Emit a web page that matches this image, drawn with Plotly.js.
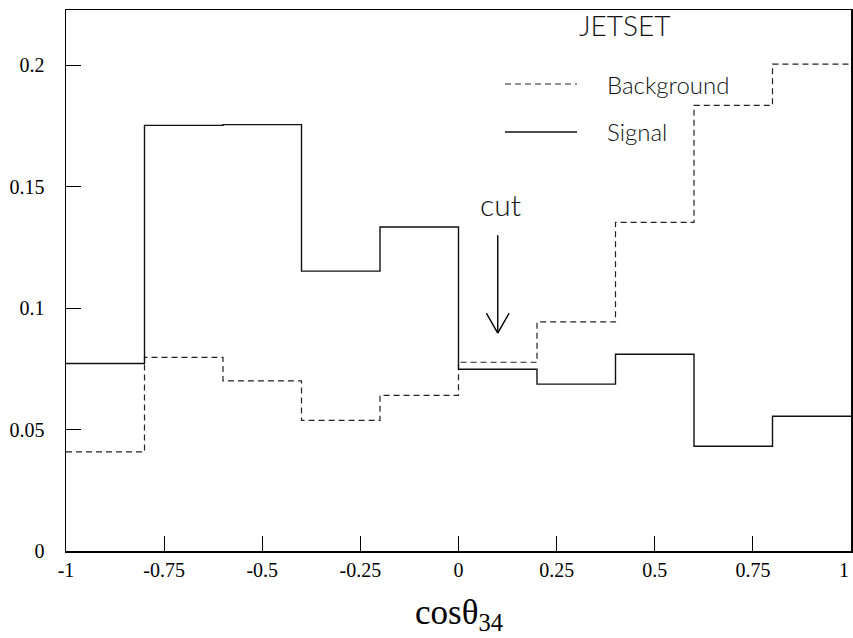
<!DOCTYPE html>
<html>
<head>
<meta charset="utf-8">
<script src="https://cdn.plot.ly/plotly-3.0.1.min.js"></script>
<style>html,body{margin:0;padding:0;background:#fff;}#chart{width:853px;height:638px;}</style>
</head>
<body>
<div id="chart"></div>
<script>
// Bin edges of cos(theta_34)
const binEdges = [-1, -0.8, -0.6, -0.4, -0.2, 0, 0.2, 0.4, 0.6, 0.8, 1];
// Normalised histogram contents
const signalValues = [0.0772, 0.1752, 0.1755, 0.1152, 0.1334, 0.0748, 0.0687, 0.0810, 0.0431, 0.0555];
const backgroundValues = [0.0408, 0.0797, 0.0700, 0.0538, 0.0641, 0.0777, 0.0943, 0.1353, 0.1834, 0.2004];
// Axis ticks
const xTickVals = [-1, -0.75, -0.5, -0.25, 0, 0.25, 0.5, 0.75, 1];
const xTickText = ['-1', '-0.75', '-0.5', '-0.25', '0', '0.25', '0.5', '0.75', '1'];
const yTickVals = [0, 0.05, 0.1, 0.15, 0.2];
const yTickText = ['0', '0.05', '0.1', '0.15', '0.2'];
// Labels
const seriesNames = ['Background', 'Signal'];
const generatorLabel = 'JETSET';
const cutLabel = 'cut';
const cutPosition = 0.1;

function stepY(vals) { return vals.concat([vals[vals.length - 1]]); }

const traces = [
  {x: binEdges, y: stepY(backgroundValues), type: 'scatter', mode: 'lines', name: seriesNames[0],
   line: {shape: 'hv', color: '#222', width: 1.2, dash: '6px,4px'}, hoverinfo: 'skip'},
  {x: binEdges, y: stepY(signalValues), type: 'scatter', mode: 'lines', name: seriesNames[1],
   line: {shape: 'hv', color: '#111', width: 1.4}, hoverinfo: 'skip'}
];

const labelFont = {family: 'Lato, "Open Sans", sans-serif', color: '#111', weight: 300};
const tickFontX = {family: '"Liberation Serif", "Times New Roman", serif', size: 20, color: '#000'};
const nLast = xTickVals.length - 1;

const layout = {
  width: 853, height: 638,
  margin: {l: 66, r: 2, t: 10, b: 87},
  paper_bgcolor: '#fff', plot_bgcolor: '#fff',
  showlegend: false,
  xaxis: {
    range: [-1, 1], tickvals: xTickVals.slice(0, nLast), ticktext: xTickText.slice(0, nLast),
    ticks: 'inside', ticklen: 15, tickwidth: 1, tickcolor: '#000',
    showline: true, linecolor: '#000', linewidth: 1.5, mirror: true,
    showgrid: false, zeroline: false, automargin: false,
    tickfont: tickFontX,
    ticklabelstandoff: 0
  },
  yaxis: {
    range: [0, 0.2227], tickvals: yTickVals, ticktext: yTickText,
    ticks: 'inside', ticklen: 15, tickwidth: 1, tickcolor: '#000',
    showline: true, linecolor: '#000', linewidth: 1.5, mirror: true,
    showgrid: false, zeroline: false, automargin: false,
    tickfont: {family: '"Liberation Serif", "Times New Roman", serif', size: 20, color: '#000'},
    ticklabelstandoff: 16
  },
  shapes: [
    // legend samples
    {type: 'line', xref: 'paper', yref: 'paper', x0: 0.5592, x1: 0.651, y0: 0.8632, y1: 0.8632,
     line: {color: '#222', width: 1.2, dash: '6px,4px'}},
    {type: 'line', xref: 'paper', yref: 'paper', x0: 0.5592, x1: 0.651, y0: 0.7745, y1: 0.7745,
     line: {color: '#111', width: 1.4}},
    // cut arrow
    {type: 'line', xref: 'x', yref: 'y', x0: cutPosition, x1: cutPosition, y0: 0.130, y1: 0.0897,
     line: {color: '#000', width: 1.4}},
    {type: 'line', xref: 'x', yref: 'y', x0: cutPosition - 0.029, x1: cutPosition, y0: 0.0979, y1: 0.0897,
     line: {color: '#000', width: 1.4}},
    {type: 'line', xref: 'x', yref: 'y', x0: cutPosition + 0.029, x1: cutPosition, y0: 0.0979, y1: 0.0897,
     line: {color: '#000', width: 1.4}}
  ],
  annotations: [
    {text: generatorLabel, xref: 'paper', yref: 'paper', x: 0.7115, y: 0.972, xanchor: 'center', yanchor: 'middle',
     showarrow: false, font: Object.assign({size: 28}, labelFont)},
    {text: seriesNames[0], xref: 'paper', yref: 'paper', x: 0.6866, y: 0.863, xanchor: 'left', yanchor: 'middle',
     showarrow: false, font: Object.assign({size: 24}, labelFont)},
    {text: seriesNames[1], xref: 'paper', yref: 'paper', x: 0.6866, y: 0.7745, xanchor: 'left', yanchor: 'middle',
     showarrow: false, font: Object.assign({size: 24}, labelFont)},
    {text: cutLabel, xref: 'x', yref: 'y', x: 0.108, y: 0.1428, xanchor: 'center', yanchor: 'middle',
     showarrow: false, font: Object.assign({size: 30}, labelFont)},
    // right-most tick label sits on the page edge, as in the reference
    {text: xTickText[nLast], xref: 'x', yref: 'paper', x: xTickVals[nLast], y: -0.012,
     xanchor: 'right', yanchor: 'top', showarrow: false, font: tickFontX},
    {text: 'cosθ<sub>34</sub>', xref: 'paper', yref: 'paper', x: 0.5, y: -0.117, xanchor: 'center', yanchor: 'middle',
     showarrow: false, font: {family: '"Liberation Serif", "Times New Roman", serif', size: 35, color: '#000'}}
  ]
};

Plotly.newPlot('chart', traces, layout, {staticPlot: true, displayModeBar: false});
</script>
</body>
</html>
